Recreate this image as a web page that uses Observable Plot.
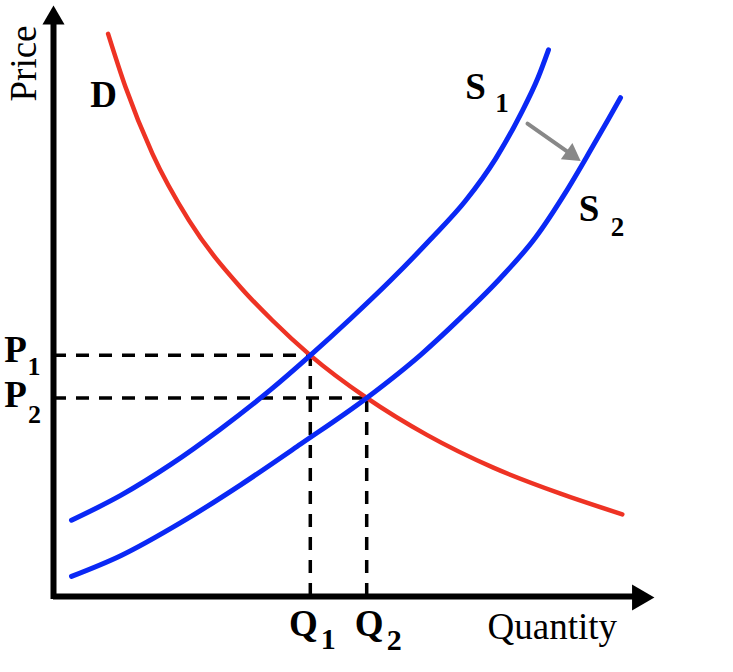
<!DOCTYPE html>
<html><head><meta charset="utf-8">
<script src="https://cdn.jsdelivr.net/npm/d3@7"></script>
<script src="https://cdn.jsdelivr.net/npm/@observablehq/plot@0.6"></script>
<style>body{margin:0;background:#fff;}</style>
</head><body><div id="chart"></div>
<script>
// Demand curve D (quantity, price)
const demandQ = [9.1, 12.0, 16.5, 22.6, 31.2, 36.5, 42.8, 52.2, 62.3, 73.3, 84.5, 94.8];
const demandP = [95.2, 86.2, 74.9, 63.6, 52.3, 46.7, 40.8, 33.6, 27.3, 21.8, 17.4, 13.9];
// Supply curve S1
const supply1Q = [3.0, 11.2, 19.5, 27.8, 36.2, 42.8, 49.5, 56.2, 62.8, 68.7, 73.7, 77.8, 80.8, 82.5];
const supply1P = [12.9, 17.1, 22.3, 28.3, 35.0, 40.8, 47.0, 53.5, 60.4, 67.0, 74.1, 81.5, 87.9, 92.5];
// Supply curve S2 (shifted right)
const supply2Q = [3.0, 11.2, 21.2, 31.2, 41.2, 52.2, 61.2, 67.8, 74.5, 80.3, 85.3, 89.5, 92.5, 94.5];
const supply2P = [3.4, 6.9, 12.5, 18.9, 25.8, 33.6, 40.9, 47.1, 53.9, 60.7, 68.3, 75.5, 80.8, 84.4];
// Equilibria
const equilibriumQ = [42.8, 52.2];
const equilibriumP = [40.8, 33.6];
const subscripts = ["1", "2"];
const curveNames = ["D", "S", "S"];
const axisTitles = ["Price", "Quantity"];
// Shift arrow (from S1 towards S2)
const shiftArrowQ = [79.0, 86.3];
const shiftArrowP = [80.0, 74.8];
const axisMax = 100;

const rows = (qs, ps) => qs.map((q, i) => ({q, p: ps[i]}));
const serif = "Liberation Serif, Times New Roman, Times, serif";
const label = (q, p, t, dx, dy, size, weight, extra = {}) =>
  Plot.text([{q, p, t}], {x: "q", y: "p", text: "t", dx, dy, fontSize: size,
    fontWeight: weight, fontFamily: serif, fill: "black", textAnchor: "middle", ...extra});

const dash = {stroke: "black", strokeWidth: 3.5, strokeDasharray: "13,10"};
const blue = "#0a28f5", red = "#ee3324";

const chart = Plot.plot({
  width: 733, height: 672,
  marginLeft: 53, marginRight: 80, marginTop: 5, marginBottom: 76,
  x: {domain: [0, axisMax], axis: null},
  y: {domain: [0, axisMax], axis: null},
  marks: [
    // dashed guides
    Plot.ruleY(equilibriumP, {x1: 0, x2: (d, i) => equilibriumQ[i], ...dash}),
    Plot.ruleX(equilibriumQ, {y1: 0, y2: (d, i) => equilibriumP[i], ...dash}),
    // curves
    Plot.line(rows(demandQ, demandP), {x: "q", y: "p", stroke: red, strokeWidth: 4.5, curve: "monotone-x"}),
    Plot.line(rows(supply1Q, supply1P), {x: "q", y: "p", stroke: blue, strokeWidth: 5, curve: "monotone-x"}),
    Plot.line(rows(supply2Q, supply2P), {x: "q", y: "p", stroke: blue, strokeWidth: 5, curve: "monotone-x"}),
    // axes
    Plot.ruleX([0], {y1: -0.5, y2: 97.5, stroke: "black", strokeWidth: 6}),
    Plot.ruleY([0], {x1: 0, x2: 97.5, stroke: "black", strokeWidth: 6}),
    Plot.dot([{q: 0, p: axisMax}], {x: "q", y: "p", symbol: "triangle", r: 8.2, fill: "black", stroke: "none", dy: 12.7}),
    Plot.dot([{q: axisMax, p: 0}], {x: "q", y: "p", symbol: "triangle", r: 9.6, fill: "black", stroke: "none", dx: -14, dy: 1, rotate: 90}),
    // shift arrow
    Plot.line(rows(shiftArrowQ, shiftArrowP), {x: "q", y: "p", stroke: "#888", strokeWidth: 4}),
    Plot.dot([{q: shiftArrowQ[1], p: shiftArrowP[1]}], {x: "q", y: "p", symbol: "triangle", r: 7.4, fill: "#888", stroke: "none", rotate: 125.4}),
    // axis titles
    label(0, axisMax, axisTitles[0], -29.8, 58, 37, "normal", {rotate: -90}),
    label(axisMax, 0, axisTitles[1], -166, 31, 37, "normal", {textAnchor: "start"}),
    // curve labels
    label(demandQ[0], demandP[0], curveNames[0], -4.5, 61, 37, "bold"),
    label(supply1Q.at(-1), supply1P.at(-1), curveNames[1], -73, 37.5, 37, "bold"),
    label(supply1Q.at(-1), supply1P.at(-1), subscripts[0], -46.5, 54, 27, "bold"),
    label(supply2Q.at(-1), supply2P.at(-1), curveNames[2], -31.5, 111.5, 37, "bold"),
    label(supply2Q.at(-1), supply2P.at(-1), subscripts[1], -3, 130, 27, "bold"),
    // price labels
    label(0, equilibriumP[0], "P", -38, -5, 37, "bold"),
    label(0, equilibriumP[0], subscripts[0], -19.5, 11.5, 26, "bold"),
    label(0, equilibriumP[1], "P", -38, -3, 37, "bold"),
    label(0, equilibriumP[1], subscripts[1], -19, 17, 26, "bold"),
    // quantity labels
    label(equilibriumQ[0], 0, "Q", -7, 28, 37, "bold"),
    label(equilibriumQ[0], 0, subscripts[0], 18, 43, 30, "bold"),
    label(equilibriumQ[1], 0, "Q", 2.5, 28, 37, "bold"),
    label(equilibriumQ[1], 0, subscripts[1], 27.5, 44, 30, "bold")
  ]
});
document.getElementById("chart").appendChild(chart);
</script>
</body></html>
